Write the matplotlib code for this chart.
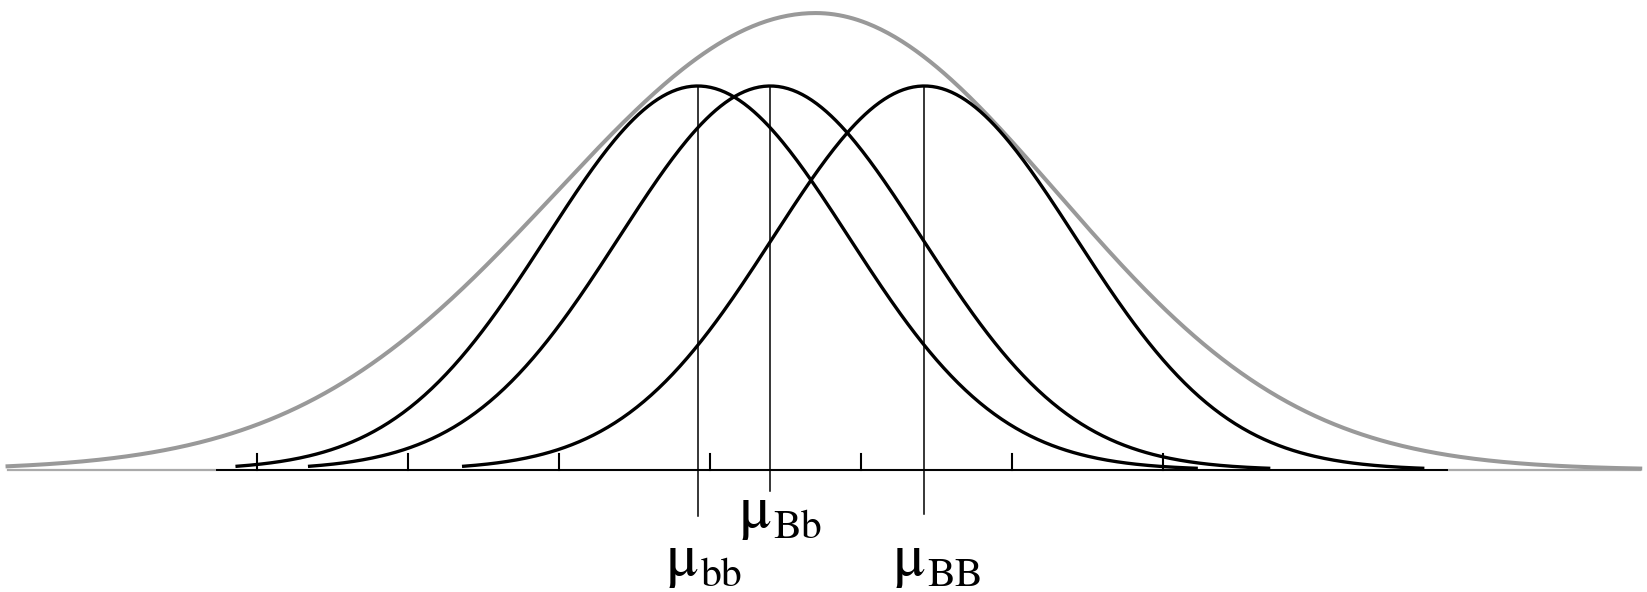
import numpy as np
import matplotlib.pyplot as plt

# genotype classes and their means / spread (tick units)
genotypes = ["bb", "Bb", "BB"]
means = [2.92, 3.40, 4.42]
sds = [1.0, 1.0, 1.0]
peak = 1.0

# overall (grey) distribution
grey_mean = 3.70
grey_sd_left = 1.72
grey_sd_right = 1.60
grey_peak = 1.19

tick_pos = [0, 1, 2, 3, 4, 5, 6]

# how far the mean lines drop below the axis, and label baselines
line_bottom = [-0.12, -0.055, -0.115]
label_y = [-0.273, -0.148, -0.273]

fig = plt.figure(figsize=(16.47, 5.92), dpi=100)
ax = fig.add_axes([0, 0, 1, 1])
ax.set_xlim(-1.70, 9.205)
ax.set_ylim(-0.318, 1.224)
ax.axis("off")

# grey population curve (doubles as the long grey baseline)
xg = np.linspace(-1.65, 9.16, 700)
sg = np.where(xg < grey_mean, grey_sd_left, grey_sd_right)
yg = grey_peak * np.exp(-0.5 * ((xg - grey_mean) / sg) ** 2)
ax.plot([-1.65, 9.16], [0, 0], color="#aaaaaa", lw=1.6, zorder=1)
ax.plot(xg, yg, color="#999999", lw=2.9, zorder=1)

# black axis + ticks
ax.plot([-0.26, 7.88], [0, 0], color="black", lw=1.4, zorder=2)
for t in tick_pos:
    ax.plot([t, t], [0, 0.042], color="black", lw=1.5, zorder=2)

# genotype curves
for m, s in zip(means, sds):
    x = np.linspace(m - 3.05 * s, m + 3.3 * s, 400)
    y = peak * np.exp(-0.5 * ((x - m) / s) ** 2)
    ax.plot(x, y, color="black", lw=2.4, zorder=3)

# mean lines and labels
serif = ["STIXGeneral", "Liberation Serif", "DejaVu Serif"]
for g, m, lb, ly in zip(genotypes, means, line_bottom, label_y):
    ax.plot([m, m], [lb, peak], color="black", lw=1.1, zorder=3)
    ax.text(m - 0.21, ly, "\u03bc", fontsize=44, family=serif,
            ha="left", va="baseline")
    ax.text(m + 0.02, ly - 0.029, g, fontsize=30, family=serif,
            ha="left", va="baseline")

fig.savefig("out.png", dpi=100, facecolor="white")
